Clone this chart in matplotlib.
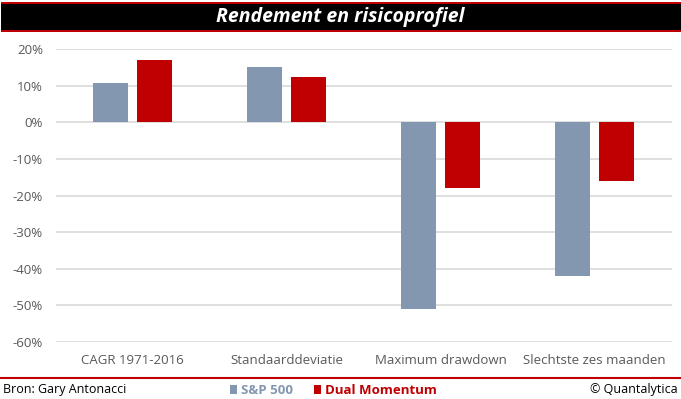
import matplotlib.pyplot as plt
import numpy as np
from matplotlib.patches import Rectangle
from matplotlib.lines import Line2D

# -----------------------------
# Data
# -----------------------------
categories = ["CAGR 1971-2016", "Standaarddeviatie", "Maximum drawdown", "Slechtste zes maanden"]
sp500 = [10.7, 15.1, -51.0, -42.0]
dual_momentum = [17.1, 12.4, -17.9, -15.9]
yticks = [20, 10, 0, -10, -20, -30, -40, -50, -60]

grey = "#8497B0"
red = "#C00000"
label_col = "#595959"

plt.rcParams['font.family'] = ['Open Sans', 'DejaVu Sans']

fig = plt.figure(figsize=(6.81, 3.99), dpi=100)

# -----------------------------
# Title bar
# -----------------------------
H = 399.0
W = 681.0
fig.patches.append(Rectangle((1 / W, 1 - 32 / H), 1 - 1 / W, 30 / H, transform=fig.transFigure,
                             facecolor=red, edgecolor="none"))
fig.patches.append(Rectangle((1 / W, 1 - 30 / H), 1 - 1 / W, 26 / H, transform=fig.transFigure,
                             facecolor="black", edgecolor="none"))
fig.text(0.5, 1 - 17 / H, "Rendement en risicoprofiel", color="white", fontsize=14,
         fontweight="bold", fontstyle="italic", ha="center", va="center")

# -----------------------------
# Bars
# -----------------------------
ax = fig.add_axes([55.5 / W, 1 - 341.7 / H, 616 / W, (341.7 - 49.3) / H])
x = np.arange(len(categories))
w = 0.227
off = 0.143
ax.bar(x - off, sp500, w, color=grey, zorder=3)
ax.bar(x + off, dual_momentum, w, color=red, zorder=3)

ax.set_xlim(-0.5, len(categories) - 0.5)
ax.set_ylim(-60, 20)
ax.set_yticks(yticks)
ax.set_yticklabels([f"{t}%" for t in yticks])
ax.set_xticks(x)
ax.set_xticklabels(categories)
ax.yaxis.grid(True, color="#D9D9D9", linewidth=1.2, zorder=0)
ax.tick_params(axis="both", length=0, labelsize=9.5, labelcolor=label_col)
ax.tick_params(axis="x", pad=9)
ax.tick_params(axis="y", pad=9)
for s in ax.spines.values():
    s.set_visible(False)

# -----------------------------
# Footer
# -----------------------------
fig.add_artist(Line2D([0, 1], [1 - 378 / H, 1 - 378 / H], transform=fig.transFigure,
                      color=red, linewidth=1.5))
fig.text(3 / W, 1 - 390 / H, "Bron: Gary Antonacci", fontsize=9, color="black", ha="left", va="center")
fig.text(678 / W, 1 - 390 / H, "\u00a9 Quantalytica", fontsize=9, color="black", ha="right", va="center")
fig.patches.append(Rectangle((230 / W, 1 - 394 / H), 7 / W, 9 / H, transform=fig.transFigure,
                             facecolor=grey, edgecolor="none"))
fig.text(241 / W, 1 - 390 / H, "S&P 500", fontsize=9.5, fontweight="bold", color=grey, ha="left", va="center")
fig.patches.append(Rectangle((314 / W, 1 - 394 / H), 7 / W, 9 / H, transform=fig.transFigure,
                             facecolor=red, edgecolor="none"))
fig.text(325 / W, 1 - 390 / H, "Dual Momentum", fontsize=9.5, fontweight="bold", color=red, ha="left", va="center")

fig.savefig("out.png", dpi=100)
